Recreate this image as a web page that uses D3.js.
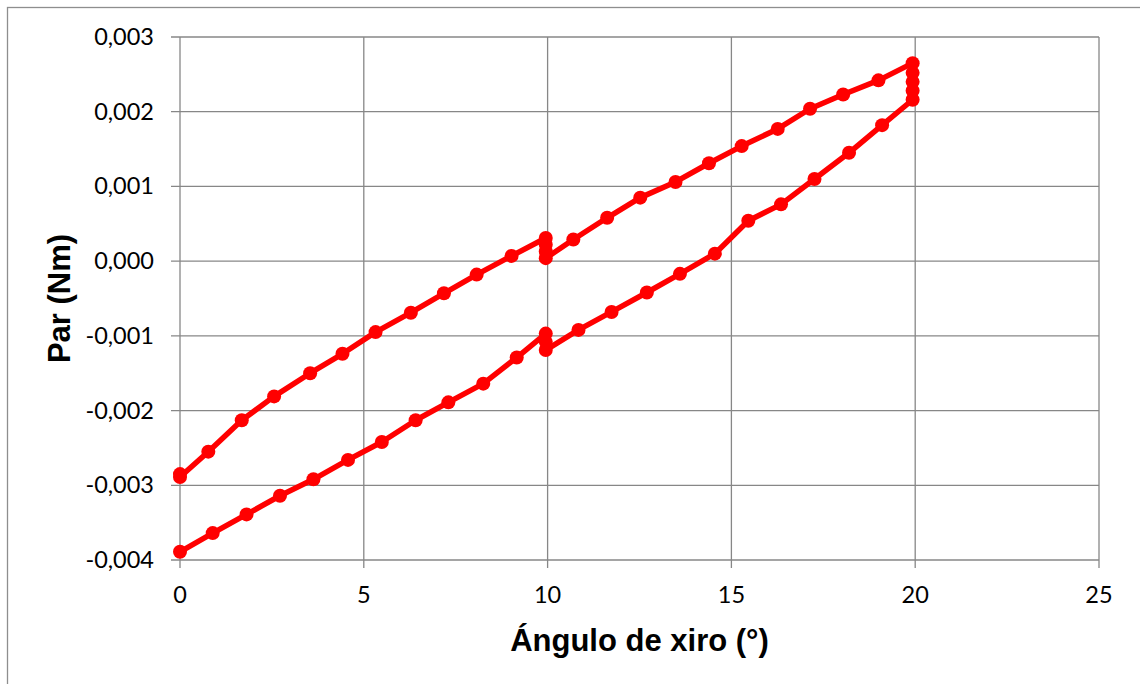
<!DOCTYPE html>
<html>
<head>
<meta charset="utf-8">
<script src="https://cdn.jsdelivr.net/npm/d3@7"></script>
<style>
  html, body { margin: 0; padding: 0; background: #fff; }
  svg { display: block; }
</style>
</head>
<body>
<svg id="chart" width="1140" height="684"></svg>
<script>
// Torque vs twist angle, one loop: loading 0 -> 20 deg, then unloading 20 -> 0 deg
const angle = [
  0, 0.89, 1.81, 2.72, 3.63, 4.57, 5.49, 6.41, 7.3, 8.25, 9.16,
  9.95, 9.95, 9.95,
  10.84, 11.74, 12.7, 13.6, 14.55, 15.46, 16.35, 17.26, 18.2, 19.1,
  19.93, 19.93, 19.93, 19.93, 19.93,
  19.0, 18.04, 17.14, 16.26, 15.28, 14.39, 13.48, 12.52, 11.62, 10.7,
  9.95, 9.95, 9.95, 9.95,
  9.02, 8.07, 7.18, 6.28, 5.32, 4.42, 3.54, 2.56, 1.68, 0.77, 0, 0
]
const torque = [
  -0.00389, -0.00364, -0.00339, -0.00314, -0.00292, -0.00266, -0.00242, -0.00213, -0.00189, -0.00164, -0.00129,
  -0.00097, -0.00108, -0.00119,
  -0.00092, -0.00068, -0.00042, -0.00017, 0.0001, 0.00054, 0.00076, 0.0011, 0.00145, 0.00182,
  0.00216, 0.00228, 0.0024, 0.00252, 0.00265,
  0.00242, 0.00223, 0.00204, 0.00177, 0.00154, 0.00131, 0.00106, 0.00085, 0.00058, 0.00029,
  0.00004, 0.00013, 0.00022, 0.00031,
  0.00007, -0.00018, -0.00043, -0.00069, -0.00095, -0.00124, -0.0015, -0.00181, -0.00213, -0.00255, -0.00289, -0.00285
]

const xTicks = [0, 5, 10, 15, 20, 25]
const yTicks = [-0.004, -0.003, -0.002, -0.001, 0, 0.001, 0.002, 0.003]

const xTitle = 'Ángulo de xiro (°)'
const yTitle = 'Par (Nm)'

// layout
const L = 180, R = 1099, T = 37, B = 560
const GRID = '#878787'
const RED = '#ff0000'

const svg = d3.select('#chart')

// outer chart border (only top/left inside the picture)
svg.append('rect')
    .attr('x', 7.5)
    .attr('y', 7.5)
    .attr('width', 1200)
    .attr('height', 800)
    .attr('fill', 'none')
    .attr('stroke', '#8e8e8e')
    .attr('stroke-width', 1.3)

const x = d3.scaleLinear().domain([0, 25]).range([L, R])
const y = d3.scaleLinear().domain([-0.004, 0.003]).range([B, T])

const fmt = v => d3.format('.3f')(v).replace('.', ',').replace('−', '-')

// grid
svg.append('g')
    .selectAll('line.h')
    .data(yTicks)
    .join('line')
    .attr('x1', L - 9).attr('x2', R)
    .attr('y1', d => y(d)).attr('y2', d => y(d))
    .attr('stroke', GRID).attr('stroke-width', 1.3)

svg.append('g')
    .selectAll('line.v')
    .data(xTicks)
    .join('line')
    .attr('x1', d => x(d)).attr('x2', d => x(d))
    .attr('y1', T).attr('y2', B + 8)
    .attr('stroke', GRID).attr('stroke-width', 1.3)

// tick labels
svg.append('g')
    .selectAll('text')
    .data(yTicks)
    .join('text')
    .attr('x', 154)
    .attr('y', d => y(d) + 8)
    .attr('text-anchor', 'end')
    .style('font-family', 'Lato, "Open Sans", sans-serif')
    .style('font-size', '23.5px')
    .style('fill', '#000')
    .text(fmt)

svg.append('g')
    .selectAll('text')
    .data(xTicks)
    .join('text')
    .attr('x', d => x(d))
    .attr('y', 603)
    .attr('text-anchor', 'middle')
    .style('font-family', 'Lato, "Open Sans", sans-serif')
    .style('font-size', '23.5px')
    .style('fill', '#000')
    .text(d => d)

// axis titles
svg.append('text')
    .attr('x', (L + R) / 2)
    .attr('y', 651)
    .attr('text-anchor', 'middle')
    .style('font-family', '"Liberation Sans", Arial, sans-serif')
    .style('font-weight', 'bold')
    .style('font-size', '31px')
    .text(xTitle)

svg.append('text')
    .attr('transform', `translate(70, ${(T + B) / 2}) rotate(-90)`)
    .attr('text-anchor', 'middle')
    .style('font-family', '"Liberation Sans", Arial, sans-serif')
    .style('font-weight', 'bold')
    .style('font-size', '31px')
    .text(yTitle)

// series
const pts = angle.map((a, i) => [a, torque[i]])

svg.append('path')
    .datum(pts)
    .attr('fill', 'none')
    .attr('stroke', RED)
    .attr('stroke-width', 5.5)
    .attr('stroke-linejoin', 'round')
    .attr('d', d3.line().x(d => x(d[0])).y(d => y(d[1])))

svg.append('g')
    .selectAll('circle')
    .data(pts)
    .join('circle')
    .attr('cx', d => x(d[0]))
    .attr('cy', d => y(d[1]))
    .attr('r', 7)
    .attr('fill', RED)
</script>
</body>
</html>
